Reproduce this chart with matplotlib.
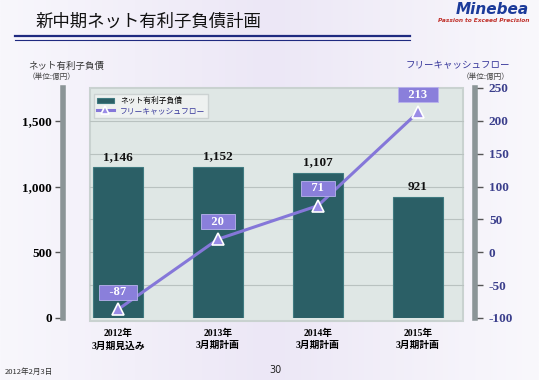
import numpy as np
import matplotlib
matplotlib.use("Agg")
from matplotlib import pyplot as plt
from matplotlib.patches import Rectangle

plt.rcParams['font.family'] = ['Noto Sans CJK JP', 'DejaVu Sans']

categories = ['2012年\n3月期見込み', '2013年\n3月期計画', '2014年\n3月期計画', '2015年\n3月期計画']
net_debt = [1146, 1152, 1107, 921]
free_cf = [-87, 20, 71, 213]
left_ticks = [0, 500, 1000, 1500]
right_ticks = [-100, -50, 0, 50, 100, 150, 200, 250]

W, H = 539, 380
fig = plt.figure(figsize=(W / 100, H / 100), dpi=100)
fig.patch.set_facecolor('#f6f4fa')

# background gradient
bg = fig.add_axes([0, 0, 1, 1], zorder=-10)
grad = np.linspace(0, 1, 256).reshape(1, -1)
bg.imshow(np.vstack([grad] * 2), aspect='auto', extent=[0, 1, 0, 1],
          cmap=matplotlib.colors.LinearSegmentedColormap.from_list('bg', ['#f8f7fc', '#ece7f6', '#f9f8fc']))
bg.set_axis_off()

serif = ['Liberation Serif', 'Noto Sans CJK JP']
navy = '#3b3f8c'

# title and header
fig.text(35 / W, 1 - 22 / H, '新中期ネット有利子負債計画', fontsize=12.5, va='center', color='#111111')
fig.add_artist(plt.Line2D([15 / W, 410 / W], [1 - 36 / H, 1 - 36 / H], color='#1f2a80', lw=1.6))
fig.add_artist(plt.Line2D([15 / W, 410 / W], [1 - 40 / H, 1 - 40 / H], color='#1f2a80', lw=0.8))
fig.text(529 / W, 1 - 10 / H, 'Minebea', fontsize=11, fontweight='bold', style='italic',
         color='#1b3a9a', ha='right', va='center', family='DejaVu Sans')
fig.text(529 / W, 1 - 21 / H, 'Passion to Exceed Precision', fontsize=4.2, style='italic',
         fontweight='bold', color='#c0302a', ha='right', va='center', family='DejaVu Sans')

fig.text(28 / W, 1 - 66 / H, 'ネット有利子負債', fontsize=6.8, va='center', color='#333333')
fig.text(28 / W, 1 - 77 / H, '（単位:億円）', fontsize=5.5, va='center', color='#444444')
fig.text(510 / W, 1 - 66 / H, 'フリーキャッシュフロー', fontsize=6.8, va='center', ha='right', color='#333399')
fig.text(510 / W, 1 - 77 / H, '（単位:億円）', fontsize=5.5, va='center', ha='right', color='#444444')

fig.text(5 / W, 1 - 372 / H, '2012年2月3日', fontsize=5.5, style='italic', va='center', color='#333333')
fig.text(275 / W, 1 - 370 / H, '30', fontsize=7, va='center', ha='center', color='#222222',
         family='DejaVu Sans')

# main axes
ax = fig.add_axes([63 / W, (H - 318) / H, (475 - 63) / W, (318 - 88) / H])
ax.set_facecolor('none')
x = np.arange(len(categories))
ax.set_xlim(-0.55, 3.57)
ax.set_ylim(0, 1750)

# grey plot area
ax.add_patch(Rectangle((-0.28, -25), 3.73, 1775, facecolor='#dfe7e5', edgecolor='#c9d2d0',
                       lw=1.5, zorder=0, clip_on=False))
for g in range(250, 1750, 250):
    ax.plot([-0.28, 3.45], [g, g], color='#b9c2c0', lw=0.8, zorder=1)

bars = ax.bar(x, net_debt, width=0.5, color='#2b5f66', edgecolor='#3f7a80', lw=0.8, zorder=2,
              label='ネット有利子負債')
for xi, v in zip(x, net_debt):
    ax.text(xi, v + 30, f'{v:,}', ha='center', va='bottom', fontsize=9.5, fontweight='bold',
            family=serif, color='#111111', zorder=5)

ax.set_yticks(left_ticks)
ax.set_yticklabels([f'{t:,}' for t in left_ticks], fontsize=9.5, fontweight='bold', family=serif)
ax.set_xticks(x)
ax.set_xticklabels(categories, fontsize=7, fontweight='bold', family=serif, linespacing=1.4)
ax.tick_params(axis='x', length=0, pad=8)
ax.tick_params(axis='y', length=6, width=1, color='#555555', pad=2)
for s in ['top', 'bottom', 'right']:
    ax.spines[s].set_visible(False)
ax.spines['left'].set_color('#8b9597')
ax.spines['left'].set_linewidth(4)

ax2 = ax.twinx()
ax2.set_ylim(-100, 250)
line, = ax2.plot(x, free_cf, color='#8577d9', lw=2.2, marker='^', markersize=9,
                 markerfacecolor='#9a8ce6', markeredgecolor='white', markeredgewidth=1.2,
                 zorder=4, label='フリーキャッシュフロー')
for xi, v in zip(x, free_cf):
    ax2.annotate(f'   {v}   ', (xi, v), xytext=(0, 12.5), textcoords='offset points', ha='center',
                 va='center', fontsize=9, fontweight='bold', family=serif, color='white',
                 bbox=dict(boxstyle='square,pad=0.12', facecolor='#8a7fdb', edgecolor='#b9b2ee', lw=0.6),
                 zorder=6)
ax2.set_yticks(right_ticks)
ax2.set_yticklabels([str(t) for t in right_ticks], fontsize=9.5, fontweight='bold', family=serif,
                    color=navy)
ax2.tick_params(axis='y', length=6, width=1, color='#555555', pad=4)
for s in ['top', 'bottom', 'left']:
    ax2.spines[s].set_visible(False)
ax2.spines['right'].set_color('#8b9597')
ax2.spines['right'].set_linewidth(4)

leg = ax2.legend(handles=[bars, line], loc='upper left', bbox_to_anchor=(27 / 412, 0.99),
                 fontsize=5.6, frameon=True, fancybox=False, borderpad=0.35, labelspacing=0.25,
                 handlelength=2.2, markerscale=0.6)
leg.get_frame().set_facecolor('#f2f4f4')
leg.get_frame().set_edgecolor('#c6cccc')
leg.get_texts()[1].set_color('#333399')
leg.set_zorder(7)

fig.savefig('out.png', dpi=100)
